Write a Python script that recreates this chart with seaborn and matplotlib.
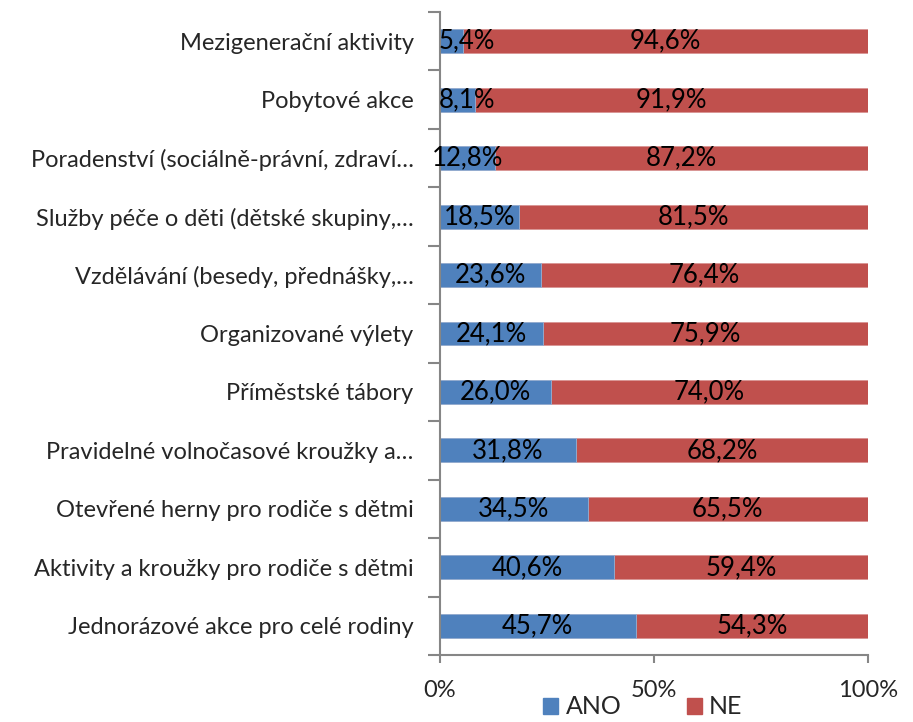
import matplotlib
matplotlib.use("Agg")
import matplotlib.pyplot as plt
import seaborn as sns
import pandas as pd
from matplotlib.patches import Patch
from matplotlib.ticker import FixedLocator

# ========== Data ==========
categories = [
    "Mezigenerační aktivity",
    "Pobytové akce",
    "Poradenství (sociálně-právní, zdraví…",
    "Služby péče o děti (dětské skupiny,…",
    "Vzdělávání (besedy, přednášky,…",
    "Organizované výlety",
    "Příměstské tábory",
    "Pravidelné volnočasové kroužky a…",
    "Otevřené herny pro rodiče s dětmi",
    "Aktivity a kroužky pro rodiče s dětmi",
    "Jednorázové akce pro celé rodiny",
]
ano = [5.4, 8.1, 12.8, 18.5, 23.6, 24.1, 26.0, 31.8, 34.5, 40.6, 45.7]
ne = [94.6, 91.9, 87.2, 81.5, 76.4, 75.9, 74.0, 68.2, 65.5, 59.4, 54.3]

df = pd.DataFrame({"kategorie": categories, "ANO": ano, "NE": ne})
df["celkem"] = df["ANO"] + df["NE"]

BLUE = "#4F81BD"
RED = "#C0504D"
GRAY = "#868686"
FS = 17

# ========== Plot ==========
sns.set_style("white")
plt.rcParams["font.family"] = ["Lato", "DejaVu Sans"]

fig = plt.figure(figsize=(9.13, 7.22), dpi=100)
ax = fig.add_axes([440 / 913, 1 - 655 / 722, 428 / 913, 643 / 722])

sns.barplot(data=df, y="kategorie", x="celkem", color=RED, saturation=1,
            width=0.41, ax=ax, orient="h", edgecolor="#D99594", linewidth=0.6)
sns.barplot(data=df, y="kategorie", x="ANO", color=BLUE, saturation=1,
            width=0.41, ax=ax, orient="h", edgecolor="#95B3D7", linewidth=0.6)

# value labels
for i, (a, n) in enumerate(zip(ano, ne)):
    ax.text(max(a / 2, 6.3), i, f"{a:.1f}%".replace(".", ","),
            ha="center", va="center", fontsize=18.5, color="black")
    ax.text(a + n / 2, i, f"{n:.1f}%".replace(".", ","),
            ha="center", va="center", fontsize=18.5, color="black")

ax.set_xlim(0, 100)
ax.set_ylim(len(categories) - 0.5, -0.5)
ax.set_xticks([0, 50, 100])
ax.set_xticklabels(["0%", "50%", "100%"], fontsize=FS)
ax.set_xlabel("")
ax.set_ylabel("")
ax.tick_params(axis="y", which="major", left=True, length=0, labelsize=FS, pad=19)
ax.yaxis.set_minor_locator(FixedLocator([i - 0.5 for i in range(len(categories) + 1)]))
ax.tick_params(axis="y", which="minor", left=True, length=9, width=1.5,
               color=GRAY, direction="out")
ax.tick_params(axis="x", bottom=True, length=6, width=1.5, color=GRAY,
               direction="out", pad=12)

for s in ["top", "right"]:
    ax.spines[s].set_visible(False)
for s in ["left", "bottom"]:
    ax.spines[s].set_color(GRAY)
    ax.spines[s].set_linewidth(1.5)

handles = [Patch(color=BLUE, label="ANO"), Patch(color=RED, label="NE")]
fig.legend(handles=handles, loc="center", bbox_to_anchor=(643 / 913, 1 - 707 / 722),
           ncol=2, frameon=False, fontsize=18, handlelength=0.6, handleheight=0.6,
           handletextpad=0.3, columnspacing=2.6)

fig.savefig("out.png", dpi=100)
